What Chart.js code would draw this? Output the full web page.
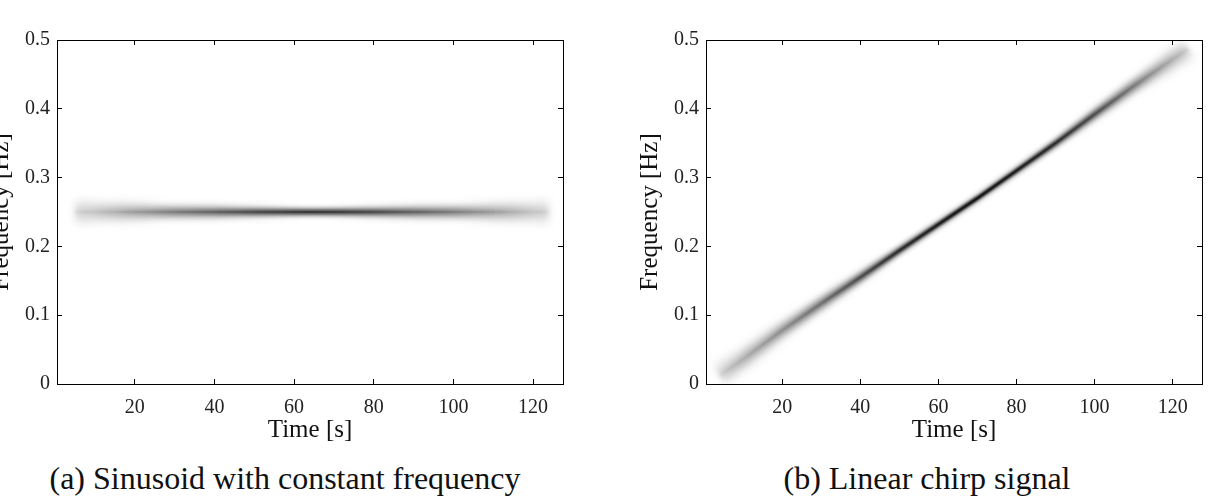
<!DOCTYPE html>
<html>
<head>
<meta charset="utf-8">
<script src="https://cdn.jsdelivr.net/npm/chart.js@4.4.1/dist/chart.umd.min.js"></script>
<style>
  html, body { margin: 0; padding: 0; background: #fff; overflow: hidden; }
  body { width: 1222px; height: 498px; position: relative; }
  canvas { position: absolute; top: 0; }
  #chart-sine { left: -23px; }
  #chart-chirp { left: 626px; }
  .caption {
    position: absolute; top: 460px; width: 600px; text-align: center;
    font: 32px "Liberation Serif", serif; color: #111; line-height: 36px; white-space: nowrap;
  }
</style>
</head>
<body>
<canvas id="chart-sine" width="596" height="450"></canvas>
<canvas id="chart-chirp" width="586" height="450"></canvas>
<div class="caption" style="left:-15px">(a) Sinusoid with constant frequency</div>
<div class="caption" style="left:627px">(b) Linear chirp signal</div>
<script>
// ridge of the time-frequency distribution
const sineTime = [5, 10, 15, 20, 30, 40, 50, 60, 64, 70, 80, 90, 100, 110, 115, 120, 124];
const sineFreq = [0.25, 0.25, 0.25, 0.25, 0.25, 0.25, 0.25, 0.25, 0.25, 0.25, 0.25, 0.25, 0.25, 0.25, 0.25, 0.25, 0.25];
// how concentrated the energy is along the ridge (0 = smeared, 1 = sharp)
const sineFocus = [0.02, 0.15, 0.3, 0.42, 0.58, 0.7, 0.8, 0.86, 0.88, 0.86, 0.8, 0.7, 0.58, 0.42, 0.3, 0.15, 0.02];

const chirpTime = [4, 10, 20, 30, 40, 50, 60, 70, 80, 90, 100, 110, 120, 124];
const chirpFreq = [0.012, 0.036, 0.078, 0.117, 0.155, 0.194, 0.232, 0.27, 0.31, 0.35, 0.392, 0.433, 0.472, 0.487];
const chirpFocus = [0.08, 0.32, 0.5, 0.65, 0.8, 0.92, 0.98, 1, 0.98, 0.92, 0.8, 0.6, 0.32, 0.12];

const timeTicks = [20, 40, 60, 80, 100, 120];
const freqTicks = [0, 0.1, 0.2, 0.3, 0.4, 0.5];

const tickFont = { family: "Liberation Serif", size: 20 };
const titleFont = { family: "Liberation Serif", size: 25 };

// stacked strokes, wide/faint to thin/dark, each softened with a blur
const layerWidths = [28, 20, 13, 8, 4.5, 2.2];
const layerBlurs = [5, 4, 3, 2, 1, 0.5];

// alpha of every layer for a given focus: band width and centre darkness follow the focus
function layerAlphas(c) {
  const band = 4 + 23 * (1 - c);
  const peak = 0.2 + 0.72 * Math.pow(c, 1.5);
  const on = layerWidths.map((w) => {
    const f = Math.min(1, Math.max(0, (band - w) / 6 + 1));
    return f * Math.min(1, Math.pow(w / band, 0.7));
  });
  let lo = 0;
  let hi = 1;
  for (let i = 0; i < 30; i++) {
    const q = (lo + hi) / 2;
    const dark = 1 - on.reduce((acc, f) => acc * (1 - Math.min(1, q * f)), 1);
    if (dark < peak) lo = q;
    else hi = q;
  }
  return on.map((f) => Math.min(1, lo * f));
}

const blurPlugin = {
  id: "blur",
  beforeDatasetDraw(chart, args) {
    chart.ctx.save();
    chart.ctx.filter = "blur(" + chart.data.datasets[args.index].blur + "px)";
  },
  afterDatasetDraw(chart) {
    chart.ctx.restore();
  },
};

function makeLayers(time, freq, focus) {
  const points = time.map((t, i) => ({ x: t, y: freq[i] }));
  const alphas = focus.map(layerAlphas);
  const t0 = time[0];
  const t1 = time[time.length - 1];
  return layerWidths.map((w, k) => ({
    data: points,
    blur: layerBlurs[k],
    pointRadius: 0,
    borderWidth: w,
    borderCapStyle: "butt",
    borderColor: (ctx) => {
      const chart = ctx.chart;
      if (!chart.chartArea) return "rgba(0,0,0,0)";
      const xs = chart.scales.x;
      const grad = chart.ctx.createLinearGradient(xs.getPixelForValue(t0), 0, xs.getPixelForValue(t1), 0);
      time.forEach((t, i) => {
        grad.addColorStop((t - t0) / (t1 - t0), "rgba(0,0,0," + alphas[i][k].toFixed(4) + ")");
      });
      return grad;
    },
  }));
}

const border = { color: "#000", width: 1 };
const grid = { drawOnChartArea: false, tickLength: -5, color: "#000" };

function spectrogram(canvas, time, freq, focus) {
  return new Chart(canvas, {
    type: "line",
    data: { datasets: makeLayers(time, freq, focus) },
    options: {
      responsive: false,
      animation: false,
      events: [],
      layout: { padding: { top: 40, right: 10, bottom: 0, left: 0 } },
      plugins: { legend: { display: false }, tooltip: { enabled: false } },
      scales: {
        x: {
          type: "linear",
          position: "bottom",
          min: 0.5,
          max: 127.5,
          afterBuildTicks: (s) => { s.ticks = timeTicks.map((v) => ({ value: v })); },
          afterFit: (s) => { s.height = 66; },
          ticks: { color: "#222", font: tickFont, padding: 17, maxRotation: 0, autoSkip: false, callback: (v) => String(v) },
          grid: grid,
          border: border,
          title: { display: true, text: "Time [s]", color: "#111", font: titleFont, padding: { top: 0, bottom: 5 } },
        },
        x2: {
          type: "linear",
          position: "top",
          min: 0.5,
          max: 127.5,
          afterBuildTicks: (s) => { s.ticks = timeTicks.map((v) => ({ value: v })); },
          afterFit: (s) => { s.height = 0; },
          ticks: { display: false },
          grid: grid,
          border: border,
        },
        y: {
          type: "linear",
          position: "left",
          min: 0,
          max: 0.5,
          afterBuildTicks: (s) => { s.ticks = freqTicks.map((v) => ({ value: v })); },
          afterFit: (s) => { s.width = 80; },
          ticks: { color: "#222", font: tickFont, padding: 12, callback: (v) => (v === 0 ? "0" : v.toFixed(1)) },
          grid: grid,
          border: border,
          title: { display: true, text: "Frequency [Hz]", color: "#111", font: titleFont, padding: { top: 9.6, bottom: 0 } },
        },
        y2: {
          type: "linear",
          position: "right",
          min: 0,
          max: 0.5,
          afterBuildTicks: (s) => { s.ticks = freqTicks.map((v) => ({ value: v })); },
          afterFit: (s) => { s.width = 0; },
          ticks: { display: false },
          grid: grid,
          border: border,
        },
      },
    },
    plugins: [blurPlugin],
  });
}

const chartSine = spectrogram(document.querySelector("#chart-sine"), sineTime, sineFreq, sineFocus);
const chartChirp = spectrogram(document.querySelector("#chart-chirp"), chirpTime, chirpFreq, chirpFocus);
</script>
</body>
</html>
